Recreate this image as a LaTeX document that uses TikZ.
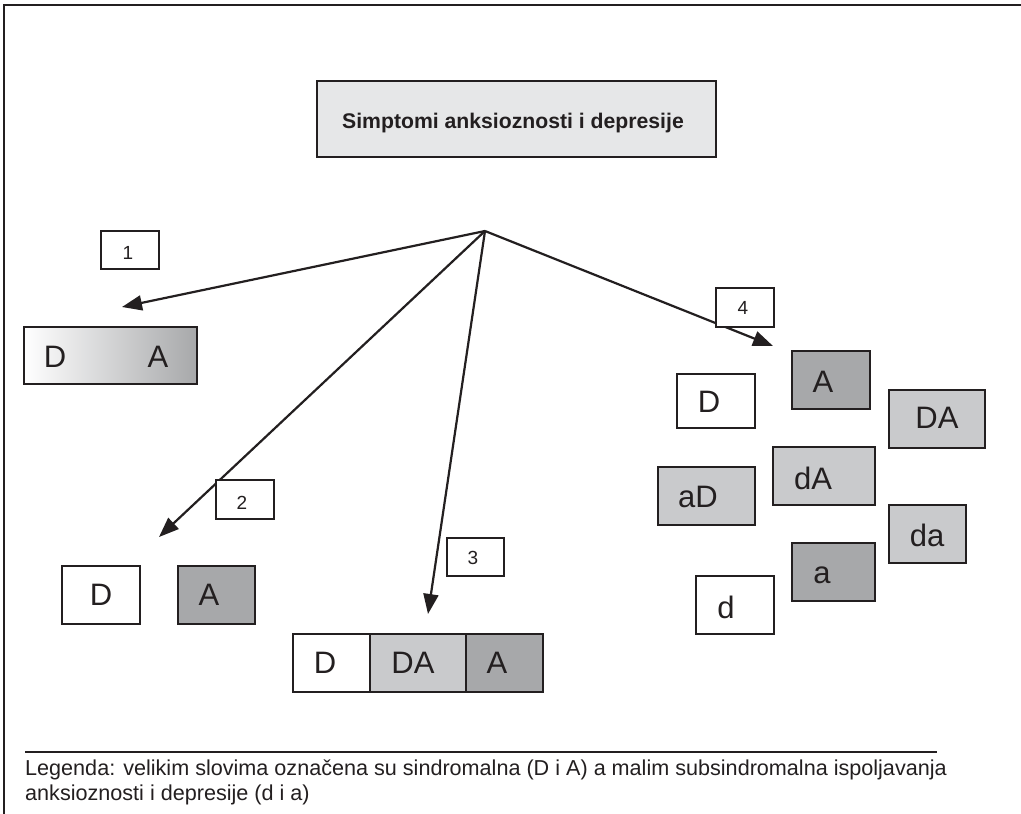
\documentclass[tikz,border=0pt]{standalone}
\usepackage{fontspec}
\setmainfont{Liberation Sans}
\usetikzlibrary{arrows.meta,calc}
\definecolor{ink}{HTML}{231F20}
\definecolor{darkfill}{HTML}{A7A8AA}
\definecolor{lightfill}{HTML}{C9CACC}
\definecolor{palefill}{HTML}{E6E7E8}
\begin{document}
\begin{tikzpicture}[x=1pt,y=-1pt,
  bx/.style={draw=ink, line width=2.2pt, inner sep=0pt, rectangle},
  bigtxt/.style={text=ink, inner sep=0pt, font=\fontsize{31}{37}\selectfont},
  numtxt/.style={text=ink, inner sep=0pt, font=\fontsize{19}{22}\selectfont},
  arr/.style={draw=ink, line width=2.2pt, -{Triangle[length=20pt,width=15pt]}},
  numbox/.style={bx, fill=white, minimum width=58pt, minimum height=38pt}
]
\useasboundingbox (0,0) rectangle (1021,814);
\fill[white] (0,0) rectangle (1021,814);
% frame
\draw[ink, line width=2.8pt] (4,814) -- (4,5) -- (1021,5);

% title
\node[bx, fill=palefill, minimum width=399pt, minimum height=76pt] (title) at (516.5,119) {};
\node[anchor=base, text=ink, inner sep=0pt, font=\fontsize{21.2}{25}\bfseries] (titletxt) at (513,128) {Simptomi anksioznosti i depresije};

% arrows
\coordinate (fan) at (485,231);
\coordinate (t1) at (122,307);
\coordinate (t2) at (159,537);
\coordinate (t3) at (428,614);
\coordinate (t4) at (773,346);
\draw[arr] (fan) -- (t1);
\draw[arr] (fan) -- (t2);
\draw[arr] (fan) -- (t3);
\draw[arr] (fan) -- (t4);

% number boxes
\node[numbox] (n1) at (130,250) {};
\node[numtxt] (n1t) at (128,253) {1};
\node[numbox, minimum height=39pt] (n2) at (245,499.5) {};
\node[numtxt] (n2t) at (242,503) {2};
\node[numbox, minimum width=57pt] (n3) at (475.5,557) {};
\node[numtxt] (n3t) at (473,558) {3};
\node[numbox, minimum height=39pt] (n4) at (745,307.5) {};
\node[numtxt] (n4t) at (743,308) {4};

% group 1: gradient
\node[bx, left color=white, right color=darkfill, minimum width=173pt, minimum height=57pt] (g) at (110.5,355.5) {};
\node[bigtxt] (gD) at (55,357) {D};
\node[bigtxt] (gA) at (158,357) {A};

% group 2
\node[bx, fill=white, minimum width=78pt, minimum height=58pt] (s2D) at (101,595) {};
\node[bigtxt] (s2Dt) at (101,595) {D};
\node[bx, fill=darkfill, minimum width=77pt, minimum height=58pt] (s2A) at (216.5,595) {};
\node[bigtxt] (s2At) at (209,595) {A};

% group 3
\node[bx, fill=white, minimum width=77pt, minimum height=58pt] (r1) at (331.5,663) {};
\node[bx, fill=lightfill, minimum width=96pt, minimum height=58pt] (r2) at (418,663) {};
\node[bx, fill=darkfill, minimum width=77pt, minimum height=58pt] (r3) at (504.5,663) {};
\node[bigtxt] (r1t) at (325,663) {D};
\node[bigtxt] (r2t) at (413,663) {DA};
\node[bigtxt] (r3t) at (497,663) {A};

% group 4
\node[bx, fill=darkfill, minimum width=78pt, minimum height=58pt] (qA) at (831,380) {};
\node[bigtxt] (qAt) at (823,382) {A};
\node[bx, fill=white, minimum width=78pt, minimum height=54pt] (qD) at (716,401) {};
\node[bigtxt] (qDt) at (709,402) {D};
\node[bx, fill=lightfill, minimum width=96pt, minimum height=58pt] (qDA) at (937,419) {};
\node[bigtxt] (qDAt) at (937,418) {DA};
\node[bx, fill=lightfill, minimum width=102pt, minimum height=58pt] (qdA) at (824,476) {};
\node[bigtxt] (qdAt) at (813,478) {dA};
\node[bx, fill=lightfill, minimum width=97pt, minimum height=58pt] (qaD) at (706.5,496) {};
\node[bigtxt] (qaDt) at (698,497) {aD};
\node[bx, fill=lightfill, minimum width=77pt, minimum height=58pt] (qda) at (927.5,534) {};
\node[bigtxt] (qdat) at (927,535) {da};
\node[bx, fill=darkfill, minimum width=83pt, minimum height=58pt] (qa) at (833.5,572) {};
\node[bigtxt] (qat) at (822,575) {a};
\node[bx, fill=white, minimum width=78pt, minimum height=58pt] (qd) at (735,605) {};
\node[bigtxt] (qdt) at (726,607) {d};

% legend
\coordinate (legL) at (25,752);
\coordinate (legR) at (937,752);
\draw[ink, line width=2.2pt] (legL) -- (legR);
\node[anchor=base west, text=ink, inner sep=0pt, font=\fontsize{21.6}{25}\selectfont] (leg1) at (25,775) {Legenda: velikim slovima označena su sindromalna (D i A) a malim subsindromalna ispoljavanja};
\node[anchor=base west, text=ink, inner sep=0pt, font=\fontsize{21.6}{25}\selectfont] (leg2) at (25,800) {anksioznosti i depresije (d i a)};
\end{tikzpicture}
\end{document}
